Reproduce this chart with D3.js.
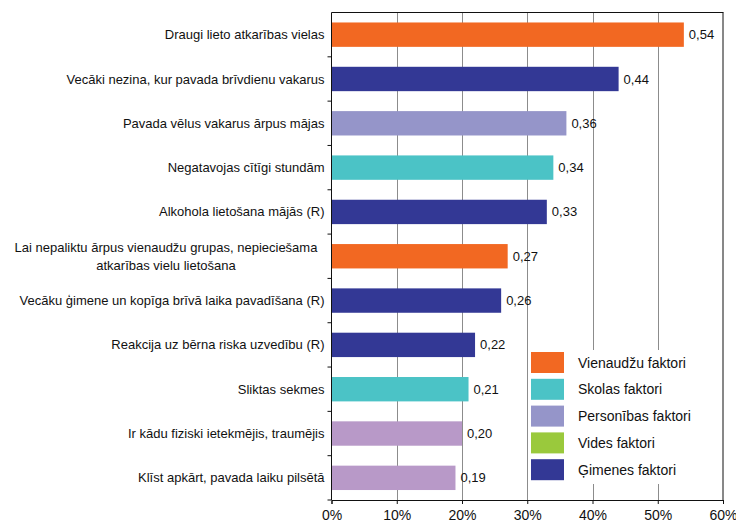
<!DOCTYPE html>
<html>
<head>
<meta charset="utf-8">
<script src="https://cdn.jsdelivr.net/npm/d3@7"></script>
<style>
  body { margin: 0; background: #fff; }
  svg { font-family: "Liberation Sans", Arial, sans-serif; display: block; }
</style>
</head>
<body>
<svg class="chart-svg" width="736" height="526"></svg>
<script>
// data
var categories = [
  "Draugi lieto atkarības vielas",
  "Vecāki nezina, kur pavada brīvdienu vakarus",
  "Pavada vēlus vakarus ārpus mājas",
  "Negatavojas cītīgi stundām",
  "Alkohola lietošana mājās (R)",
  "Lai nepaliktu ārpus vienaudžu grupas, nepieciešama\natkarības vielu lietošana",
  "Vecāku ģimene un kopīga brīvā laika pavadīšana (R)",
  "Reakcija uz bērna riska uzvedību (R)",
  "Sliktas sekmes",
  "Ir kādu fiziski ietekmējis, traumējis",
  "Klīst apkārt, pavada laiku pilsētā"
]
var values = [0.54, 0.44, 0.36, 0.34, 0.33, 0.27, 0.26, 0.22, 0.21, 0.20, 0.19]
var factors = ["Vienaudžu", "Ģimenes", "Personības", "Skolas", "Ģimenes", "Vienaudžu",
               "Ģimenes", "Ģimenes", "Skolas", "Vides", "Vides"]
var legendNames = ["Vienaudžu faktori", "Skolas faktori", "Personības faktori", "Vides faktori", "Ģimenes faktori"]
var legendKeys = ["Vienaudžu", "Skolas", "Personības", "Vides", "Ģimenes"]
var xTicks = [0, 0.1, 0.2, 0.3, 0.4, 0.5, 0.6]

var legendColor = d3.scaleOrdinal()
  .domain(legendKeys)
  .range(["#f26822", "#4bc3c6", "#9595c9", "#9ac93c", "#333895"])
// the bars of the last group are drawn in a pinkish purple in the original
var barColor = d3.scaleOrdinal()
  .domain(legendKeys)
  .range(["#f26822", "#4bc3c6", "#9595c9", "#b899c8", "#333895"])

var margin = {top: 12.5, right: 13, bottom: 26, left: 331.5}
var width = 736, height = 526

var svg = d3.select(".chart-svg")

var xScale = d3.scaleLinear()
  .domain([0, 0.6])
  .range([margin.left, width - margin.right])

var yScale = d3.scaleBand()
  .domain(categories)
  .range([margin.top, height - margin.bottom])
  .paddingInner(0.45)
  .paddingOuter(0.225)

var plotTop = margin.top, plotBottom = height - margin.bottom

// gridlines
svg.append("g")
  .attr("class", "grid")
  .selectAll("line")
  .data(xTicks.slice(1, -1))
  .enter().append("line")
  .attr("x1", d => Math.round(xScale(d)) + 0.5)
  .attr("x2", d => Math.round(xScale(d)) + 0.5)
  .attr("y1", plotTop)
  .attr("y2", plotBottom)
  .attr("stroke", "#8c8c8c")
  .attr("stroke-width", 1)

// legend background hides the gridlines behind it
var legend = svg.append("g")
  .attr("class", "legend")
  .attr("transform", "translate(529, 350)")
legend.append("rect")
  .attr("width", xScale(0.6) - 529 - 1)
  .attr("height", 134)
  .attr("fill", "#fff")

legend.selectAll(".item")
  .data(legendKeys)
  .enter().append("g")
  .attr("class", "item")
  .attr("transform", (d, i) => "translate(0," + (2 + i * 26.8) + ")")
  .each(function(d, i) {
    var g = d3.select(this)
    g.append("rect")
      .attr("x", 2)
      .attr("width", 33)
      .attr("height", 21)
      .attr("fill", legendColor(d))
    g.append("text")
      .attr("x", 49)
      .attr("y", 15.5)
      .attr("font-size", "14px")
      .attr("fill", "#111")
      .text(legendNames[i])
  })

// bars
svg.append("g")
  .attr("class", "bars")
  .selectAll("rect")
  .data(categories)
  .enter().append("rect")
  .attr("x", xScale(0))
  .attr("y", d => yScale(d))
  .attr("width", (d, i) => xScale(values[i]) - xScale(0))
  .attr("height", yScale.bandwidth())
  .attr("fill", (d, i) => barColor(factors[i]))

// value labels
svg.append("g")
  .attr("class", "values")
  .selectAll("text")
  .data(categories)
  .enter().append("text")
  .attr("x", (d, i) => xScale(values[i]) + 5)
  .attr("y", d => yScale(d) + yScale.bandwidth() / 2)
  .attr("dy", "0.35em")
  .attr("font-size", "13px")
  .attr("fill", "#111")
  .text((d, i) => d3.format(".2f")(values[i]).replace(".", ","))

// plot frame: top and right
svg.append("line")
  .attr("x1", margin.left).attr("x2", xScale(0.6) + 0.5)
  .attr("y1", plotTop).attr("y2", plotTop)
  .attr("stroke", "#111")
svg.append("line")
  .attr("x1", xScale(0.6)).attr("x2", xScale(0.6))
  .attr("y1", plotTop).attr("y2", plotBottom)
  .attr("stroke", "#111")

// x axis
var xAxis = svg.append("g")
  .attr("class", "x axis")
  .attr("transform", "translate(0," + plotBottom + ")")
  .call(d3.axisBottom(xScale).tickValues(xTicks).tickSize(4).tickPadding(6)
    .tickFormat(d => Math.round(d * 100) + "%"))
xAxis.select(".domain").attr("stroke", "#111")
xAxis.selectAll("line").attr("stroke", "#111")
xAxis.selectAll("text")
  .attr("font-size", "14px")
  .attr("fill", "#111")
  .attr("font-family", "Liberation Sans, Arial, sans-serif")

// y axis line with ticks at band boundaries
svg.append("line")
  .attr("x1", margin.left).attr("x2", margin.left)
  .attr("y1", plotTop).attr("y2", plotBottom)
  .attr("stroke", "#111")
svg.append("g")
  .attr("class", "y ticks")
  .selectAll("line")
  .data(categories)
  .enter().append("line")
  .attr("x1", margin.left - 4)
  .attr("x2", margin.left)
  .attr("y1", d => yScale(d) + yScale.step() - yScale.step() * 0.225 + 0.5 * 0)
  .attr("y2", d => yScale(d) + yScale.step() - yScale.step() * 0.225)
  .attr("stroke", "#111")

// category labels
svg.append("g")
  .attr("class", "labels")
  .selectAll("text")
  .data(categories)
  .enter().append("text")
  .attr("font-size", "13px")
  .attr("fill", "#111")
  .each(function(d) {
    var lines = d.split("\n")
    var t = d3.select(this)
    var cy = yScale(d) + yScale.bandwidth() / 2
    if (lines.length == 1) {
      t.attr("x", margin.left - 7).attr("y", cy).attr("dy", "0.35em")
        .attr("text-anchor", "end").text(d)
    } else {
      t.attr("text-anchor", "middle")
      lines.forEach((line, i) => {
        t.append("tspan")
          .attr("x", 166)
          .attr("y", cy + (i - (lines.length - 1) / 2) * 18)
          .attr("dy", "0.35em")
          .text(line)
      })
    }
  })
</script>
</body>
</html>
